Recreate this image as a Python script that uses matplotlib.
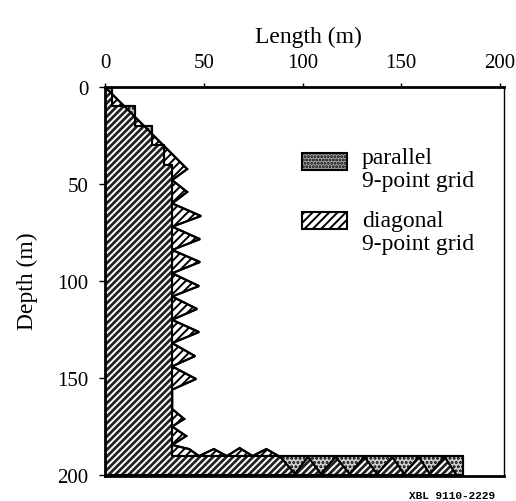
import matplotlib
matplotlib.use('Agg')
import matplotlib.pyplot as plt
from matplotlib.patches import Rectangle

plt.rcParams['font.family'] = ['Liberation Serif', 'DejaVu Serif']
plt.rcParams['hatch.linewidth'] = 1.4

# ---- data ----
# parallel 9-point grid: step profile (length per depth bin)
par_depth_edges = [0, 10, 20, 30, 40, 190, 200]
par_lengths = [3.5, 15, 24, 30, 34, 181]

# diagonal 9-point grid: outline of profile (length, depth)
diag_length = [0, 41.6, 34, 41.6, 34, 48.6, 34, 48.1, 34, 48.1, 34, 47.6, 34,
               46.6, 34, 47.6, 34, 45.6, 34, 46.1, 34, 34, 40.1, 34, 41.1, 34,
               42.6, 47.6, 55.1, 61.7, 68.2, 74.7, 81.7, 88.7, 96.2, 102.8,
               109.3, 116.8, 123.8, 131.3, 137.8, 145.4, 151.4, 158.9, 164.4,
               171.9, 177.9, 177.9, 0]
diag_depth = [0, 42.3, 48, 54.1, 60, 66.5, 72, 78.4, 84, 90.2, 96, 102.6, 108,
              114.4, 120, 126.3, 132, 138.7, 144, 150.5, 156, 166, 171.1, 175,
              179.9, 184.5, 186.6, 190.2, 186.6, 190.2, 186.1, 190.2, 186.6,
              190.7, 199.5, 190.7, 199.5, 190.7, 199.5, 190.7, 199.5, 190.7,
              199.5, 190.7, 199.5, 190.7, 200, 200, 200]

x_ticks = [0, 50, 100, 150, 200]
y_ticks = [0, 50, 100, 150, 200]
labels = ['parallel\n9-point grid', 'diagonal\n9-point grid']

fig = plt.figure(figsize=(5.16, 5.02), dpi=100)
ax = fig.add_axes([105/516, 25/502, 399/516, 389/502])

par_fill = dict(facecolor='#cfcfcf', hatch='....', edgecolor='black', linewidth=1.5)
diag_fill = dict(facecolor='none', hatch='////', edgecolor='black', linewidth=1.5)

par_x = par_lengths + [par_lengths[-1]]
par_coll = ax.fill_betweenx(par_depth_edges, 0, par_x, step='post',
                            zorder=2, **par_fill)
ax.fill(diag_length, diag_depth, zorder=3, **diag_fill)

# overlap of both grids: dark, clipped to the parallel region
ov, = ax.fill(diag_length, diag_depth, facecolor='#222222', edgecolor='white',
              hatch='/////', linewidth=0, zorder=4)
ov.set_clip_path(par_coll.get_paths()[0], ax.transData)

# outlines on top
ax.fill_betweenx(par_depth_edges, 0, par_x, step='post', facecolor='none',
                 edgecolor='black', linewidth=1.5, zorder=5)
ax.fill(diag_length, diag_depth, facecolor='none', edgecolor='black',
        linewidth=1.5, zorder=5)

ax.set_xlim(0, 202)
ax.set_ylim(200.5, 0)
ax.set_xticks(x_ticks)
ax.set_yticks(y_ticks)
ax.xaxis.tick_top()
ax.tick_params(axis='x', top=True, bottom=False, labeltop=True, labelbottom=False,
               direction='out', length=3, width=1, pad=8, labelsize=15)
ax.tick_params(axis='y', direction='out', length=4, width=1, pad=8, labelsize=15)

for s in ['top', 'left', 'bottom']:
    ax.spines[s].set_linewidth(2)
    ax.spines[s].set_zorder(6)
ax.spines['right'].set_linewidth(1)

ax.xaxis.set_label_position('top')
ax.set_xlabel('Length (m)', fontsize=17)
ax.xaxis.set_label_coords(0.509, 1.115)
ax.set_ylabel('Depth (m)', fontsize=17)
ax.yaxis.set_label_coords(-0.168, 0.504)

# legend (manual, swatch aligned to first line)
leg_par = dict(facecolor='#a8a8a8', hatch='.....', edgecolor='black', linewidth=1.5)
for (yb, sty) in [(0.787, leg_par), (0.635, diag_fill)]:
    ax.add_patch(Rectangle((0.494, yb), 0.113, 0.044, transform=ax.transAxes,
                           zorder=4, **sty))
ax.text(0.644, 0.846, labels[0], transform=ax.transAxes, fontsize=17,
        va='top', ha='left', linespacing=1.15)
ax.text(0.644, 0.684, labels[1], transform=ax.transAxes, fontsize=17,
        va='top', ha='left', linespacing=1.15)

fig.text(0.959, 0.012, 'XBL 9110-2229', fontsize=8, family='Liberation Mono',
         weight='bold', ha='right', va='center')

fig.savefig('out.png', dpi=100)
